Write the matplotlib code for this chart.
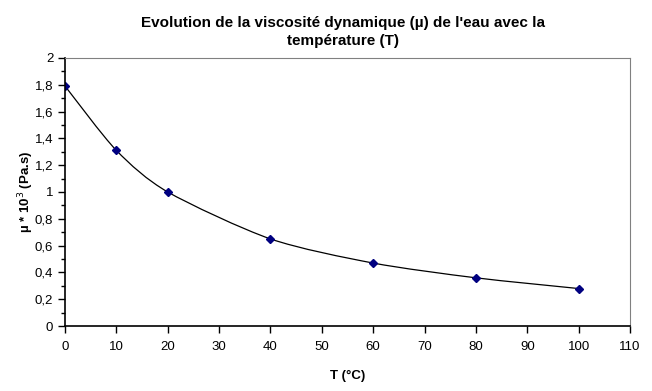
import numpy as np
import matplotlib.pyplot as plt
from matplotlib.path import Path
from matplotlib.patches import PathPatch
from matplotlib.ticker import MultipleLocator, FuncFormatter

plt.rcParams['font.family'] = ['Liberation Sans', 'DejaVu Sans']

# Données : température (°C) et viscosité dynamique (x 10^3 Pa.s)
temperature = [0, 10, 20, 40, 60, 80, 100]
viscosite = [1.79, 1.31, 1.00, 0.65, 0.47, 0.36, 0.28]


def smooth_path(x, y, tension=0.4):
    # courbe de Bézier passant par les points (lissage type tableur)
    pts = np.column_stack([x, y]).astype(float)
    verts = [pts[0]]
    codes = [Path.MOVETO]
    n = len(pts)
    for i in range(n - 1):
        p0 = pts[i - 1] if i > 0 else pts[i]
        p1 = pts[i]
        p2 = pts[i + 1]
        p3 = pts[i + 2] if i + 2 < n else pts[i + 1]
        c1 = p1 + (p2 - p0) * tension / 3
        c2 = p2 - (p3 - p1) * tension / 3
        verts += [c1, c2, p2]
        codes += [Path.CURVE4] * 3
    return Path(verts, codes)


fig = plt.figure(figsize=(6.52, 3.91), dpi=100)
ax = fig.add_axes([0.0997, 0.166, 0.8666, 0.686])

ax.add_patch(PathPatch(smooth_path(temperature, viscosite), facecolor="none",
                       edgecolor="black", lw=0.9))
ax.plot(temperature, viscosite, linestyle="none", marker="D", markersize=3.8,
        color="#000080")

ax.set_xlim(0, 110)
ax.set_ylim(0, 2)
ax.xaxis.set_major_locator(MultipleLocator(10))
ax.yaxis.set_major_locator(MultipleLocator(0.2))
ax.yaxis.set_minor_locator(MultipleLocator(0.1))
ax.yaxis.set_major_formatter(FuncFormatter(lambda v, p: f"{v:g}".replace(".", ",")))

ax.tick_params(axis="both", labelsize=9.5, direction="out", length=5, width=1)
ax.tick_params(axis="x", pad=6)
ax.tick_params(axis="y", which="minor", length=3, width=1)

for s in ["top", "right"]:
    ax.spines[s].set_color("#808080")
for s in ["left", "bottom"]:
    ax.spines[s].set_color("black")
    ax.spines[s].set_linewidth(1.2)

ax.set_xlabel("T (°C)", fontsize=9.5, fontweight="bold", labelpad=12)
ax.set_ylabel("µ * 10$^3$ (Pa.s)", fontsize=9.5, fontweight="bold", labelpad=-1)
fig.text(0.526, 0.918, "Evolution de la viscosité dynamique (µ) de l'eau avec la\ntempérature (T)",
         fontsize=11, fontweight="bold", ha="center", va="center", linespacing=1.3)

fig.savefig("out.png", dpi=100)
